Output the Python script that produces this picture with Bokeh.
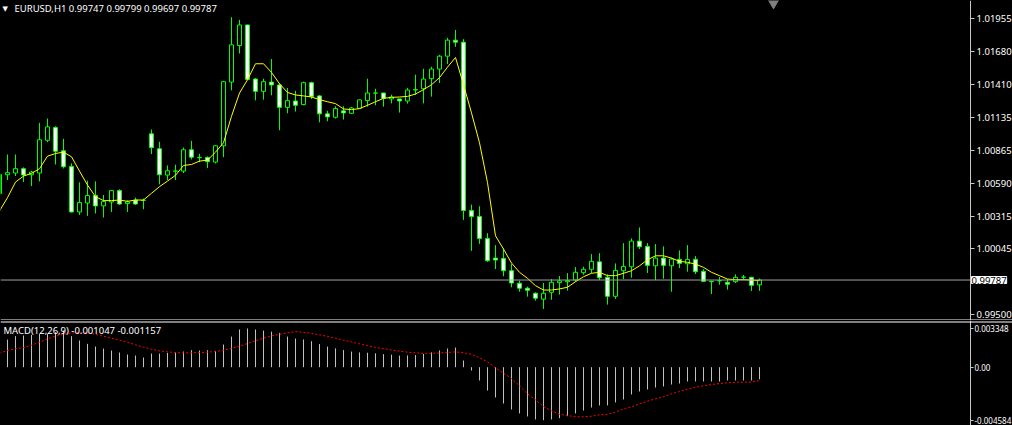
from bokeh.plotting import figure
from bokeh.models import (Range1d, FixedTicker, PrintfTickFormatter, Label, Span,
                          ColumnDataSource, LinearAxis)
from bokeh.layouts import column
from bokeh.embed import file_html
from bokeh.resources import INLINE

# ---------------- data ----------------
symbol_header = "EURUSD,H1  0.99747 0.99799 0.99697 0.99787"
macd_header = "MACD(12,26,9) -0.001047 -0.001157"
last_price = 0.99787
last_price_label = "0.99787"

bar_index = list(range(-1, 95))

open_ = [1.00504, 1.00661, 1.00675, 1.00711, 1.00661, 1.00675, 1.00947, 1.01052, 1.00860, 1.00730,
         1.00352, 1.00426, 1.00488, 1.00402, 1.00435, 1.00529, 1.00421, 1.00451, 1.00448, 1.01000,
         1.00876, 1.00658, 1.00690, 1.00691, 1.00868, 1.00804, 1.00804, 1.00766, 1.00901, 1.01430,
         1.01733, 1.01904, 1.01455, 1.01353, 1.01430, 1.01406, 1.01220, 1.01273, 1.01243, 1.01425,
         1.01315, 1.01166, 1.01138, 1.01191, 1.01171, 1.01212, 1.01276, 1.01338, 1.01339, 1.01290,
         1.01290, 1.01273, 1.01364, 1.01375, 1.01458, 1.01538, 1.01645, 1.01778, 1.01761, 1.00364,
         1.00314, 1.00132, 0.99969, 0.99967, 0.99864, 0.99760, 0.99719, 0.99677, 0.99628, 0.99685,
         0.99765, 0.99773, 0.99787, 0.99848, 0.99876, 0.99938, 0.99809, 0.99652, 0.99864, 0.99897,
         1.00110, 1.00066, 0.99905, 0.99969, 0.99905, 0.99958, 0.99922, 0.99958, 0.99859, 0.99776,
         0.99781, 0.99768, 0.99773, 0.99811, 0.99809, 0.99747]
high = [1.00689, 1.00829, 1.00829, 1.00722, 1.00694, 1.01091, 1.01127, 1.01063, 1.00959, 1.00755,
        1.00598, 1.00612, 1.00606, 1.00493, 1.00531, 1.00540, 1.00449, 1.00471, 1.00463, 1.01036,
        1.00934, 1.00738, 1.00744, 1.00887, 1.00942, 1.00835, 1.00813, 1.00906, 1.01441, 1.01968,
        1.01946, 1.01906, 1.01464, 1.01458, 1.01621, 1.01422, 1.01381, 1.01358, 1.01433, 1.01433,
        1.01323, 1.01191, 1.01229, 1.01229, 1.01224, 1.01284, 1.01458, 1.01375, 1.01342, 1.01325,
        1.01290, 1.01381, 1.01491, 1.01540, 1.01557, 1.01656, 1.01797, 1.01863, 1.01786, 1.00413,
        1.00399, 1.00176, 1.00077, 1.00049, 0.99919, 0.99781, 0.99732, 0.99685, 0.99762, 0.99795,
        0.99820, 0.99845, 0.99895, 0.99897, 1.00002, 1.00010, 0.99834, 0.99925, 1.00093, 1.00132,
        1.00223, 1.00093, 1.00085, 1.00066, 0.99972, 1.00033, 1.00077, 0.99986, 0.99876, 0.99781,
        0.99812, 0.99795, 0.99834, 0.99829, 0.99814, 0.99799]
low = [1.00490, 1.00617, 1.00650, 1.00600, 1.00567, 1.00606, 1.00931, 1.00746, 1.00713, 1.00347,
       1.00327, 1.00319, 1.00339, 1.00306, 1.00352, 1.00410, 1.00352, 1.00410, 1.00374, 1.00832,
       1.00581, 1.00617, 1.00617, 1.00675, 1.00788, 1.00765, 1.00716, 1.00755, 1.00807, 1.01361,
       1.01667, 1.01447, 1.01278, 1.01284, 1.01320, 1.01030, 1.01171, 1.01185, 1.01237, 1.01290,
       1.01096, 1.01105, 1.01127, 1.01119, 1.01166, 1.01212, 1.01226, 1.01237, 1.01226, 1.01253,
       1.01177, 1.01251, 1.01323, 1.01253, 1.01309, 1.01422, 1.01579, 1.01722, 1.00286, 1.00029,
       1.00087, 0.99938, 0.99878, 0.99818, 0.99727, 0.99690, 0.99649, 0.99616, 0.99547, 0.99624,
       0.99666, 0.99699, 0.99773, 0.99831, 0.99843, 0.99787, 0.99583, 0.99630, 0.99795, 0.99806,
       1.00044, 0.99845, 0.99787, 0.99798, 0.99690, 0.99886, 0.99856, 0.99837, 0.99773, 0.99671,
       0.99748, 0.99707, 0.99762, 0.99790, 0.99696, 0.99697]
close = [1.00664, 1.00678, 1.00711, 1.00658, 1.00683, 1.00951, 1.01058, 1.00856, 1.00727, 1.00352,
         1.00430, 1.00488, 1.00402, 1.00438, 1.00529, 1.00418, 1.00435, 1.00418, 1.00447, 1.00885,
         1.00661, 1.00694, 1.00692, 1.00868, 1.00807, 1.00802, 1.00769, 1.00901, 1.01433, 1.01739,
         1.01904, 1.01452, 1.01353, 1.01433, 1.01406, 1.01220, 1.01276, 1.01237, 1.01425, 1.01311,
         1.01166, 1.01141, 1.01210, 1.01174, 1.01215, 1.01282, 1.01339, 1.01339, 1.01295, 1.01306,
         1.01273, 1.01364, 1.01368, 1.01455, 1.01538, 1.01645, 1.01778, 1.01761, 1.00364, 1.00314,
         1.00132, 0.99947, 0.99953, 0.99864, 0.99762, 0.99719, 0.99702, 0.99636, 0.99677, 0.99768,
         0.99779, 0.99781, 0.99851, 0.99876, 0.99942, 0.99806, 0.99652, 0.99867, 0.99900, 1.00110,
         1.00063, 0.99909, 0.99969, 0.99909, 0.99961, 0.99925, 0.99958, 0.99856, 0.99776, 0.99773,
         0.99781, 0.99752, 0.99809, 0.99811, 0.99743, 0.99787]
moving_average = [1.00360, 1.00471, 1.00600, 1.00650, 1.00672, 1.00711, 1.00815, 1.00837, 1.00848, 1.00810,
                  1.00691, 1.00575, 1.00479, 1.00446, 1.00446, 1.00451, 1.00440, 1.00451, 1.00451, 1.00507,
                  1.00562, 1.00608, 1.00656, 1.00738, 1.00746, 1.00774, 1.00782, 1.00848, 1.00926, 1.01146,
                  1.01339, 1.01449, 1.01582, 1.01582, 1.01510, 1.01416, 1.01344, 1.01323, 1.01315, 1.01306,
                  1.01284, 1.01267, 1.01251, 1.01207, 1.01201, 1.01210, 1.01237, 1.01267, 1.01295, 1.01303,
                  1.01306, 1.01311, 1.01331, 1.01367, 1.01408, 1.01467, 1.01554, 1.01634, 1.01408, 1.01174,
                  1.00926, 1.00595, 1.00154, 1.00044, 0.99928, 0.99851, 0.99801, 0.99740, 0.99704, 0.99704,
                  0.99713, 0.99727, 0.99773, 0.99814, 0.99843, 0.99851, 0.99823, 0.99823, 0.99843, 0.99864,
                  0.99905, 0.99955, 0.99988, 0.99988, 0.99969, 0.99942, 0.99934, 0.99919, 0.99892, 0.99851,
                  0.99823, 0.99795, 0.99790, 0.99790, 0.99787, 0.99781]
macd_main = [0.00220, 0.00239, 0.00268, 0.00274, 0.00280, 0.00288, 0.00288, 0.00303, 0.00317, 0.00268,
             0.00231, 0.00202, 0.00179, 0.00161, 0.00144, 0.00127, 0.00110, 0.00101, 0.00084, 0.00118,
             0.00118, 0.00124, 0.00127, 0.00136, 0.00147, 0.00144, 0.00147, 0.00141, 0.00196, 0.00265,
             0.00326, 0.003348, 0.00326, 0.00317, 0.00308, 0.00297, 0.00265, 0.00248, 0.00240, 0.00225,
             0.00200, 0.00178, 0.00163, 0.00148, 0.00135, 0.00128, 0.00125, 0.00120, 0.00113, 0.00108,
             0.00100, 0.00102, 0.00105, 0.00115, 0.00128, 0.00145, 0.00162, 0.00170, 0.00058, -0.00029,
             -0.00115, -0.00202, -0.00262, -0.00314, -0.00366, -0.00400, -0.00426, -0.00452, -0.004584, -0.00452,
             -0.00441, -0.00424, -0.00400, -0.00375, -0.00349, -0.00331, -0.00331, -0.00305, -0.00279, -0.00236,
             -0.00210, -0.00193, -0.00176, -0.00167, -0.00150, -0.00141, -0.00124, -0.00124, -0.00124, -0.00124,
             -0.00124, -0.00115, -0.00115, -0.00115, -0.00115, -0.001047]
macd_signal = [0.00121, 0.00144, 0.00159, 0.00170, 0.00190, 0.00216, 0.00245, 0.00268, 0.00285, 0.00297,
               0.00300, 0.00297, 0.00285, 0.00268, 0.00251, 0.00234, 0.00216, 0.00193, 0.00173, 0.00156,
               0.00141, 0.00133, 0.00127, 0.00124, 0.00124, 0.00127, 0.00130, 0.00136, 0.00147, 0.00164,
               0.00182, 0.00205, 0.00228, 0.00251, 0.00271, 0.00285, 0.00297, 0.00308, 0.00302, 0.00292,
               0.00280, 0.00266, 0.00250, 0.00234, 0.00218, 0.00202, 0.00186, 0.00172, 0.00160, 0.00149,
               0.00139, 0.00130, 0.00124, 0.00120, 0.00120, 0.00123, 0.00127, 0.00133, 0.00125, 0.00112,
               0.00081, 0.00047, -0.00005, -0.00052, -0.00098, -0.00161, -0.00230, -0.00282, -0.00340, -0.00377,
               -0.00407, -0.00418, -0.00429, -0.00429, -0.00424, -0.00412, -0.00407, -0.00389, -0.00360, -0.00343,
               -0.00317, -0.00294, -0.00273, -0.00256, -0.00230, -0.00210, -0.00190, -0.00173, -0.00161, -0.00150,
               -0.00141, -0.00135, -0.00130, -0.00130, -0.00128, -0.001157]

price_ticks = [1.01955, 1.01680, 1.01410, 1.01135, 1.00865, 1.00590, 1.00315, 1.00045, 0.99500]
macd_ticks = [0.003348, 0.0, -0.004584]
macd_tick_labels = ["0.003348", "0.00", "-0.004584"]

# ---------------- layout constants ----------------
W = 1012
H_MAIN = 320
H_MACD = 105
BAR_PX = 8.0
AXIS_PX = 970          # pixel position of the price scale line
SHIFT_BARS = 1.75      # chart-shift marker offset after the last bar
PRICE_TOP = 1.02107
PRICE_PER_PX = 0.0000830
MACD_ZERO_PX = 46.7
MACD_PER_PX = 0.0000865
FONT = "Noto Sans"
FS = "9.5px"
LIME = "#00ff00"
AXIS_COL = "#c8c8c8"

x0 = -0.875
x_range = Range1d(x0, x0 + W / BAR_PX)
axis_x = x0 + AXIS_PX / BAR_PX
main_y = Range1d(PRICE_TOP - H_MAIN * PRICE_PER_PX, PRICE_TOP)
macd_y = Range1d(-(H_MACD - MACD_ZERO_PX) * MACD_PER_PX, MACD_ZERO_PX * MACD_PER_PX)

tops = [max(o, c) for o, c in zip(open_, close)]
bottoms = [min(o, c) for o, c in zip(open_, close)]
fills = ["black" if c >= o else "white" for o, c in zip(open_, close)]
src = ColumnDataSource(dict(x=bar_index, o=open_, h=high, l=low, c=close,
                            top=tops, bottom=bottoms, fill=fills))


def make_fig(height, yr):
    f = figure(width=W, height=height, x_range=x_range, y_range=yr,
               y_axis_location=None, x_axis_location=None, toolbar_location=None,
               output_backend="svg", background_fill_color="black", border_fill_color="black",
               outline_line_color=None, min_border_left=0, min_border_right=0,
               min_border_top=0, min_border_bottom=0)
    f.grid.visible = False
    return f


def make_axis(ticker, label_size, tick_out, standoff):
    ax = LinearAxis(fixed_location=axis_x, ticker=ticker)
    ax.axis_line_color = AXIS_COL
    ax.major_tick_line_color = AXIS_COL
    ax.major_tick_out = tick_out
    ax.major_tick_in = 0
    ax.minor_tick_line_color = None
    ax.major_label_text_color = "white"
    ax.major_label_text_font = FONT
    ax.major_label_text_font_size = label_size
    ax.major_label_standoff = standoff
    return ax


# ---------------- main price panel ----------------
p = make_fig(H_MAIN, main_y)
p.segment(x0="x", y0="l", x1="x", y1="h", source=src, line_color=LIME, line_width=1)
p.vbar(x="x", width=0.5, top="top", bottom="bottom", source=src,
       fill_color="fill", line_color=LIME, line_width=1)
p.line(bar_index, moving_average, line_color="#ffff00", line_width=1)
p.segment(x0=[x0], y0=[last_price], x1=[axis_x], y1=[last_price], line_color="#a0a0a0", line_width=1)

pax = make_axis(FixedTicker(ticks=price_ticks), FS, 4, 2)
pax.formatter = PrintfTickFormatter(format="%.5f")
p.add_layout(pax, "right")

p.add_layout(Label(x=axis_x, y=last_price, x_offset=1, text=last_price_label, text_color="black",
                   background_fill_color="#ffffff", background_fill_alpha=1.0,
                   border_line_color="#ffffff", text_font=FONT, text_font_size=FS,
                   text_baseline="middle", text_align="left", level="overlay"))
p.add_layout(Label(x=2, y=H_MAIN - 8, x_units="screen", y_units="screen", text="\u25bc",
                   text_color="white", text_font="DejaVu Sans", text_font_size="7px",
                   text_baseline="middle"))
p.add_layout(Label(x=14, y=H_MAIN - 8, x_units="screen", y_units="screen", text=symbol_header,
                   text_color="white", text_font=FONT, text_font_size=FS, text_baseline="middle"))
p.scatter(x=[bar_index[-1] + SHIFT_BARS], y=[main_y.end - 2 * PRICE_PER_PX], marker="inverted_triangle",
          size=11, fill_color="#808080", line_color="#808080")
# panel separator (bottom border of the price window)
p.add_layout(Span(location=0.5, location_units="screen", dimension="width",
                  line_color="#ffffff", line_width=1))

# ---------------- MACD panel ----------------
m = make_fig(H_MACD, macd_y)
m.segment(x0=bar_index, y0=[0.0] * len(bar_index), x1=bar_index, y1=macd_main,
          line_color="#c0c0c0", line_width=1)
m.line(bar_index, macd_signal, line_color="#ff0000", line_width=1, line_dash="2 2")
max_ = make_axis(FixedTicker(ticks=macd_ticks), "8px", 3, 1)
max_.major_label_overrides = dict(zip(macd_ticks, macd_tick_labels))
m.add_layout(max_, "right")
m.add_layout(Label(x=3, y=H_MACD - 10, x_units="screen", y_units="screen", text=macd_header,
                   text_color="white", text_font=FONT, text_font_size=FS, text_baseline="middle"))
# top border of the indicator window
m.add_layout(Span(location=H_MACD - 1.5, location_units="screen", dimension="width",
                  line_color="#ffffff", line_width=1))

layout = column(p, m, spacing=0, styles={"background-color": "black"})
open("out.html", "w").write(file_html(layout, INLINE))
